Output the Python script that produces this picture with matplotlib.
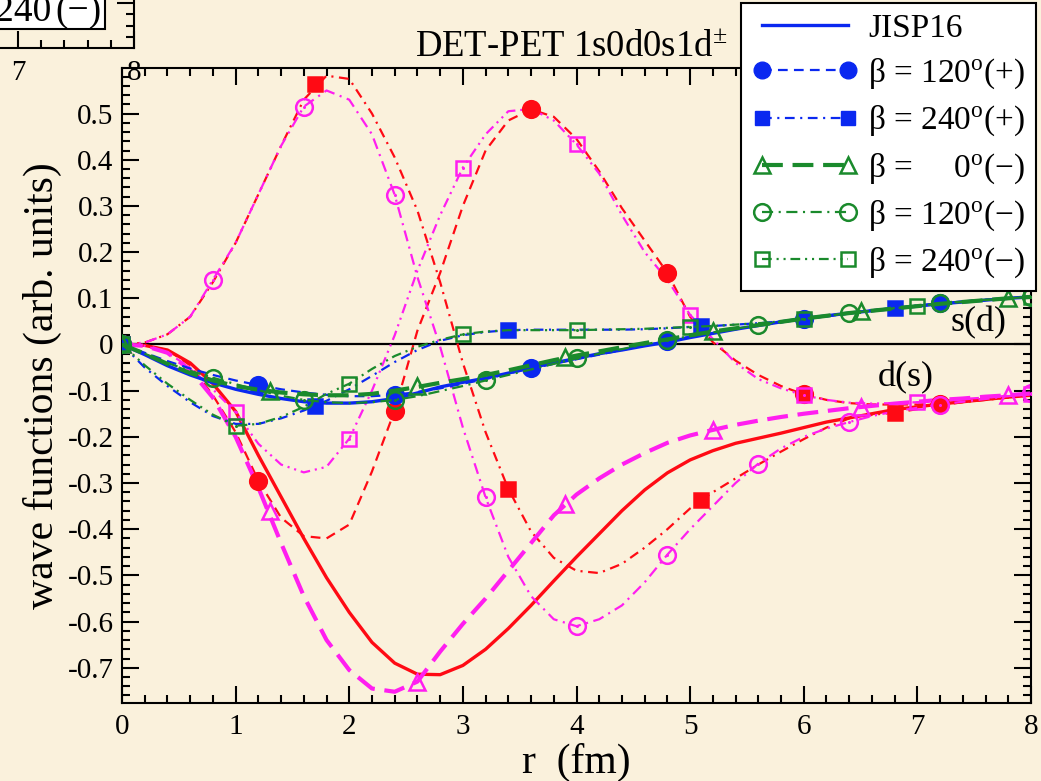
import numpy as np
import matplotlib
matplotlib.use('Agg')
import matplotlib.pyplot as plt
from matplotlib.lines import Line2D
from matplotlib.ticker import MultipleLocator, FixedLocator, FixedFormatter
from matplotlib.patches import Rectangle

plt.rcParams['font.family'] = ['Liberation Serif', 'DejaVu Serif']
plt.rcParams['mathtext.fontset'] = 'custom'
plt.rcParams['mathtext.rm'] = 'Liberation Serif'
plt.rcParams['mathtext.it'] = 'Liberation Serif:italic'
plt.rcParams['mathtext.bf'] = 'Liberation Serif:bold'
plt.rcParams['lines.scale_dashes'] = False
plt.rcParams['axes.unicode_minus'] = False

# ---------------- data ----------------
r = [0.0, 0.2, 0.4, 0.6, 0.8, 1.0, 1.2, 1.4, 1.6, 1.8, 2.0, 2.2, 2.4, 2.6, 2.8, 3.0,
     3.2, 3.4, 3.6, 3.8, 4.0, 4.2, 4.4, 4.6, 4.8, 5.0, 5.2, 5.4, 5.6, 5.8, 6.0, 6.2,
     6.4, 6.6, 6.8, 7.0, 7.2, 7.4, 7.6, 7.8, 8.0]

# s-wave components (blue: + parity, green: - parity)
s_jisp = [0, -0.022, -0.046, -0.066, -0.083, -0.097, -0.108, -0.117, -0.124, -0.127, -0.127,
          -0.124, -0.117, -0.105, -0.092, -0.082, -0.073, -0.062, -0.050, -0.040, -0.030,
          -0.020, -0.012, -0.003, 0.005, 0.015, 0.024, 0.033, 0.041, 0.049, 0.056, 0.062,
          0.068, 0.073, 0.078, 0.083, 0.088, 0.092, 0.096, 0.100, 0.103]
s_120p = [0, -0.018, -0.036, -0.052, -0.066, -0.078, -0.088, -0.097, -0.104, -0.109, -0.112,
          -0.112, -0.109, -0.103, -0.095, -0.085, -0.075, -0.063, -0.052, -0.042, -0.032,
          -0.022, -0.012, -0.002, 0.008, 0.017, 0.025, 0.033, 0.041, 0.048, 0.055, 0.061,
          0.067, 0.073, 0.078, 0.084, 0.089, 0.093, 0.097, 0.100, 0.103]
s_240p = [0, -0.050, -0.090, -0.125, -0.155, -0.172, -0.172, -0.160, -0.143, -0.122, -0.097,
          -0.068, -0.038, -0.012, 0.008, 0.020, 0.027, 0.031, 0.032, 0.032, 0.032, 0.032,
          0.032, 0.033, 0.035, 0.038, 0.040, 0.043, 0.046, 0.050, 0.055, 0.062, 0.068,
          0.074, 0.079, 0.084, 0.088, 0.092, 0.096, 0.100, 0.103]
s_0m = [0, -0.020, -0.042, -0.062, -0.078, -0.090, -0.098, -0.104, -0.108, -0.110, -0.110,
        -0.107, -0.100, -0.092, -0.083, -0.075, -0.066, -0.056, -0.045, -0.034, -0.024,
        -0.015, -0.006, 0.003, 0.011, 0.020, 0.028, 0.035, 0.042, 0.049, 0.056, 0.062,
        0.068, 0.073, 0.078, 0.083, 0.088, 0.092, 0.096, 0.100, 0.103]
s_120m = [0, -0.020, -0.040, -0.057, -0.072, -0.086, -0.099, -0.111, -0.120, -0.125, -0.127,
          -0.125, -0.120, -0.112, -0.101, -0.090, -0.078, -0.066, -0.054, -0.042, -0.030,
          -0.020, -0.010, 0.000, 0.010, 0.018, 0.026, 0.034, 0.042, 0.049, 0.055, 0.062,
          0.068, 0.073, 0.078, 0.083, 0.089, 0.093, 0.097, 0.100, 0.103]
s_240m = [0, -0.045, -0.085, -0.120, -0.152, -0.176, -0.172, -0.157, -0.135, -0.107, -0.085,
          -0.053, -0.025, -0.005, 0.010, 0.022, 0.028, 0.031, 0.031, 0.031, 0.031, 0.032,
          0.033, 0.034, 0.036, 0.038, 0.040, 0.043, 0.046, 0.050, 0.055, 0.062, 0.068,
          0.074, 0.079, 0.084, 0.088, 0.092, 0.096, 0.100, 0.103]

# d-wave components (red: + parity, magenta: - parity)
d_jisp = [0, -0.002, -0.012, -0.040, -0.085, -0.145, -0.240, -0.330, -0.420, -0.505, -0.580,
          -0.645, -0.690, -0.714, -0.715, -0.695, -0.660, -0.615, -0.565, -0.512, -0.460,
          -0.410, -0.360, -0.315, -0.278, -0.250, -0.230, -0.214, -0.203, -0.192, -0.180,
          -0.168, -0.159, -0.150, -0.141, -0.135, -0.129, -0.124, -0.119, -0.114, -0.110]
d_120p = [0, -0.002, -0.012, -0.045, -0.110, -0.190, -0.295, -0.375, -0.415, -0.420, -0.390,
          -0.275, -0.143, 0.030, 0.155, 0.300, 0.420, 0.485, 0.509, 0.493, 0.445, 0.375,
          0.295, 0.225, 0.155, 0.060, 0.005, -0.035, -0.066, -0.090, -0.108, -0.120, -0.127,
          -0.130, -0.130, -0.130, -0.128, -0.124, -0.119, -0.114, -0.108]
d_240p = [0, 0.004, 0.022, 0.060, 0.135, 0.220, 0.325, 0.430, 0.530, 0.582, 0.575, 0.500,
          0.405, 0.290, 0.135, -0.040, -0.190, -0.313, -0.405, -0.462, -0.490, -0.495,
          -0.475, -0.440, -0.400, -0.355, -0.320, -0.290, -0.260, -0.232, -0.205, -0.180,
          -0.160, -0.152, -0.148, -0.140, -0.132, -0.125, -0.120, -0.115, -0.110]
d_0m = [0, -0.003, -0.018, -0.055, -0.115, -0.200, -0.310, -0.430, -0.545, -0.640, -0.705,
        -0.745, -0.752, -0.730, -0.665, -0.605, -0.550, -0.490, -0.430, -0.370, -0.325,
        -0.290, -0.260, -0.235, -0.213, -0.197, -0.185, -0.174, -0.165, -0.157, -0.150,
        -0.144, -0.138, -0.133, -0.128, -0.124, -0.120, -0.117, -0.113, -0.110, -0.106]
d_120m = [0, 0.004, 0.022, 0.060, 0.140, 0.220, 0.325, 0.430, 0.515, 0.550, 0.530, 0.455,
          0.324, 0.146, -0.005, -0.180, -0.331, -0.460, -0.545, -0.595, -0.610, -0.595,
          -0.565, -0.515, -0.455, -0.400, -0.350, -0.300, -0.258, -0.225, -0.200, -0.182,
          -0.168, -0.155, -0.145, -0.137, -0.130, -0.124, -0.118, -0.112, -0.106]
d_240m = [0, -0.003, -0.018, -0.050, -0.097, -0.147, -0.215, -0.260, -0.277, -0.265, -0.204,
          -0.100, 0.020, 0.160, 0.280, 0.383, 0.455, 0.505, 0.510, 0.485, 0.433, 0.370,
          0.280, 0.200, 0.140, 0.064, 0.012, -0.040, -0.075, -0.095, -0.110, -0.120, -0.126,
          -0.128, -0.127, -0.125, -0.122, -0.118, -0.115, -0.111, -0.108]

# symbol positions
m120_r = [0, 1.2, 2.4, 3.6, 4.8, 6.0, 7.2]
m240_r = [0, 1.7, 3.4, 5.1, 6.8]
m0_r = [0, 1.3, 2.6, 3.9, 5.2, 6.5, 7.8]
m120m_r = [0, 0.8, 1.6, 2.4, 3.2, 4.0, 4.8, 5.6, 6.4, 7.2, 8.0]
m240m_r = [0, 1, 2, 3, 4, 5, 6, 7, 8]

s_120p_m = [0, -0.088, -0.109, -0.052, 0.008, 0.055, 0.089]
s_240p_m = [0, -0.134, 0.031, 0.040, 0.079]
s_0m_m = [0, -0.100, -0.090, -0.028, 0.030, 0.072, 0.100]
s_120m_m = [0, -0.072, -0.120, -0.120, -0.078, -0.030, 0.010, 0.042, 0.068, 0.089, 0.103]
s_240m_m = [0, -0.176, -0.085, 0.022, 0.031, 0.038, 0.055, 0.084, 0.103]

d_120p_m = [0, -0.295, -0.143, 0.509, 0.155, -0.108, -0.128]
d_240p_m = [0, 0.564, -0.313, -0.336, -0.148]
d_0m_m = [0, -0.360, -0.730, -0.345, -0.185, -0.136, -0.110]
d_120m_m = [0, 0.140, 0.515, 0.324, -0.331, -0.610, -0.455, -0.258, -0.168, -0.130, -0.106]
d_240m_m = [0, -0.147, -0.204, 0.383, 0.433, 0.064, -0.110, -0.125, -0.108]

legend_labels = ['JISP16',
                 r'β = 120$^{\rm o}$(+)',
                 r'β = 240$^{\rm o}$(+)',
                 r'β =     0$^{\rm o}$(−)',
                 r'β = 120$^{\rm o}$(−)',
                 r'β = 240$^{\rm o}$(−)']

# ---------------- style ----------------
BG = '#FAF1DC'
BLUE = '#0A28F0'
RED = '#FF0A14'
GREEN = '#1A8A2C'
MAG = '#FF1EF0'

DASH = (7, 4.5)
DASHDOT = (7, 4, 1.5, 4)
LONG = (15, 7)
DDOT = (8, 4, 1.5, 4)
DDDOT = (7, 3.5, 1.5, 3.5, 1.5, 3.5)

W, H = 1041, 781
fig = plt.figure(figsize=(W / 100, H / 100), dpi=100, facecolor=BG)

def fx(p):
    return p / W

def fy(p):
    return 1 - p / H

# main panel
ax = fig.add_axes([fx(122), fy(703.3), fx(1031 - 122), (703.3 - 68.3) / H])
ax.set_facecolor(BG)
ax.set_xlim(0, 8)
ax.set_ylim(-0.777, 0.598)
ax.set_zorder(1)

# partial upper panel (cut off at the top of the picture)
axt = fig.add_axes([fx(-10.4), fy(48), fx(134 + 10.4), 0.12])
axt.set_facecolor(BG)
axt.set_zorder(5)
axt.set_xlim(6.755, 8.0)
axt.set_ylim(0, 1)
axt.xaxis.set_major_locator(FixedLocator([7, 8]))
axt.xaxis.set_minor_locator(MultipleLocator(0.2))
axt.yaxis.set_major_locator(FixedLocator([0.48]))
axt.yaxis.set_minor_locator(FixedLocator([0.12, 0.24, 0.36]))
axt.tick_params(axis='both', which='both', direction='in', width=1.5,
                top=False, left=False, right=True, labelleft=False, labelright=False)
axt.tick_params(axis='both', which='major', length=12)
axt.tick_params(axis='both', which='minor', length=6)
axt.tick_params(axis='x', labelsize=21, pad=9)
for sp in axt.spines.values():
    sp.set_linewidth(1.5)
axt.spines['top'].set_visible(False)
axt.spines['left'].set_visible(False)
fig.patches.append(Rectangle((fx(-5), fy(29)), fx(110), 40 / H, transform=fig.transFigure,
                             facecolor='white', edgecolor='black', lw=1.5, zorder=5))
# legend entry of the upper panel, cut by the picture's top edge
fig.text(fx(51), fy(21), 'β = 240', fontsize=27, ha='right', va='baseline', zorder=6)
fig.text(fx(55), fy(21), '(−)', fontsize=27, ha='left', va='baseline', zorder=6)

ax.axhline(0, color='black', lw=1.6, zorder=1)

def curve(y, mr, my, color, dashes, lw, marker, ms, filled, z):
    ls = '-' if dashes is None else (0, dashes)
    ax.plot(r, y, color=color, lw=lw, linestyle=ls, zorder=z)
    if marker is not None:
        ax.plot(mr, my, linestyle='none', marker=marker, ms=ms,
                mfc=color if filled else 'none', mec=color, mew=1.8, zorder=z + 0.5)
        if not filled and marker != '^':
            ax.plot(mr, my, linestyle='none', marker='o', ms=2.2, mfc=color,
                    mec=color, mew=0, zorder=z + 0.6)

# d components
curve(d_jisp, None, None, RED, None, 2.4, None, 0, True, 2)
curve(d_120p, m120_r, d_120p_m, RED, DASH, 1.6, 'o', 12, True, 2)
curve(d_240p, m240_r, d_240p_m, RED, DASHDOT, 1.6, 's', 10.5, True, 2)
curve(d_0m, m0_r, d_0m_m, MAG, LONG, 3.0, '^', 12, False, 2)
curve(d_120m, m120m_r, d_120m_m, MAG, DDOT, 1.6, 'o', 12, False, 2)
curve(d_240m, m240m_r, d_240m_m, MAG, DDDOT, 1.6, 's', 10.5, False, 2)

# s components
curve(s_jisp, None, None, BLUE, None, 2.4, None, 0, True, 3)
curve(s_120p, m120_r, s_120p_m, BLUE, DASH, 1.6, 'o', 12, True, 3)
curve(s_240p, m240_r, s_240p_m, BLUE, DASHDOT, 1.6, 's', 10.5, True, 3)
curve(s_0m, m0_r, s_0m_m, GREEN, LONG, 3.0, '^', 12, False, 4)
curve(s_120m, m120m_r, s_120m_m, GREEN, DDOT, 1.6, 'o', 12, False, 4)
curve(s_240m, m240m_r, s_240m_m, GREEN, DDDOT, 1.6, 's', 10.5, False, 4)

# axes, ticks
ax.xaxis.set_major_locator(MultipleLocator(1))
ax.xaxis.set_minor_locator(MultipleLocator(0.2))
yt = [-0.7, -0.6, -0.5, -0.4, -0.3, -0.2, -0.1, 0.0, 0.1, 0.2, 0.3, 0.4, 0.5]
ytl = ['-0.7', '-0.6', '-0.5', '-0.4', '-0.3', '-0.2', '-0.1', '0',
       '0.1', '0.2', '0.3', '0.4', '0.5']
ax.yaxis.set_major_locator(FixedLocator(yt))
ax.yaxis.set_major_formatter(FixedFormatter(ytl))
ax.yaxis.set_minor_locator(MultipleLocator(0.02))
ax.tick_params(axis='both', which='both', direction='in', width=1.5,
               top=True, right=True, labelsize=21)
ax.tick_params(axis='both', which='major', length=12)
ax.tick_params(axis='both', which='minor', length=6)
ax.tick_params(axis='x', pad=8)
ax.tick_params(axis='y', pad=6)
for sp in ax.spines.values():
    sp.set_linewidth(1.5)

ax.set_xlabel('r  (fm)', fontsize=30, labelpad=2)
ax.set_ylabel('wave functions (arb. units)', fontsize=30, labelpad=4)

ax.text(7.54, 0.048, 's(d)', fontsize=26, ha='center', va='center', zorder=6)
ax.text(6.9, -0.071, 'd(s)', fontsize=26, ha='center', va='center', zorder=6)

fig.text(fx(415), fy(56), r'DET-PET 1s0d0s1d$^{\pm}$', fontsize=26.5, ha='left',
         va='baseline')

# legend
handles = [
    Line2D([], [], color=BLUE, lw=2.4),
    Line2D([], [], color=BLUE, lw=1.6, ls=(0, DASH), marker='o', ms=12, mfc=BLUE, mec=BLUE),
    Line2D([], [], color=BLUE, lw=1.6, ls=(0, DASHDOT), marker='s', ms=10.5, mfc=BLUE, mec=BLUE),
    Line2D([], [], color=GREEN, lw=3.0, ls=(0, LONG), marker='^', ms=12, mfc='none', mec=GREEN, mew=1.8),
    Line2D([], [], color=GREEN, lw=1.6, ls=(0, DDOT), marker='o', ms=12, mfc='none', mec=GREEN, mew=1.8),
    Line2D([], [], color=GREEN, lw=1.6, ls=(0, DDDOT), marker='s', ms=10.5, mfc='none', mec=GREEN, mew=1.8),
]
leg = fig.legend(handles, legend_labels, loc='upper right',
                 bbox_to_anchor=(fx(1036), fy(3)), bbox_transform=fig.transFigure,
                 fontsize=24, numpoints=2, handlelength=3.2, handletextpad=0.3,
                 labelspacing=0.38, borderpad=0.32, borderaxespad=0,
                 fancybox=False, framealpha=1, edgecolor='black', facecolor='white')
leg.get_frame().set_linewidth(1.5)
leg.set_zorder(10)

fig.savefig('out.png', dpi=100, facecolor=BG)
